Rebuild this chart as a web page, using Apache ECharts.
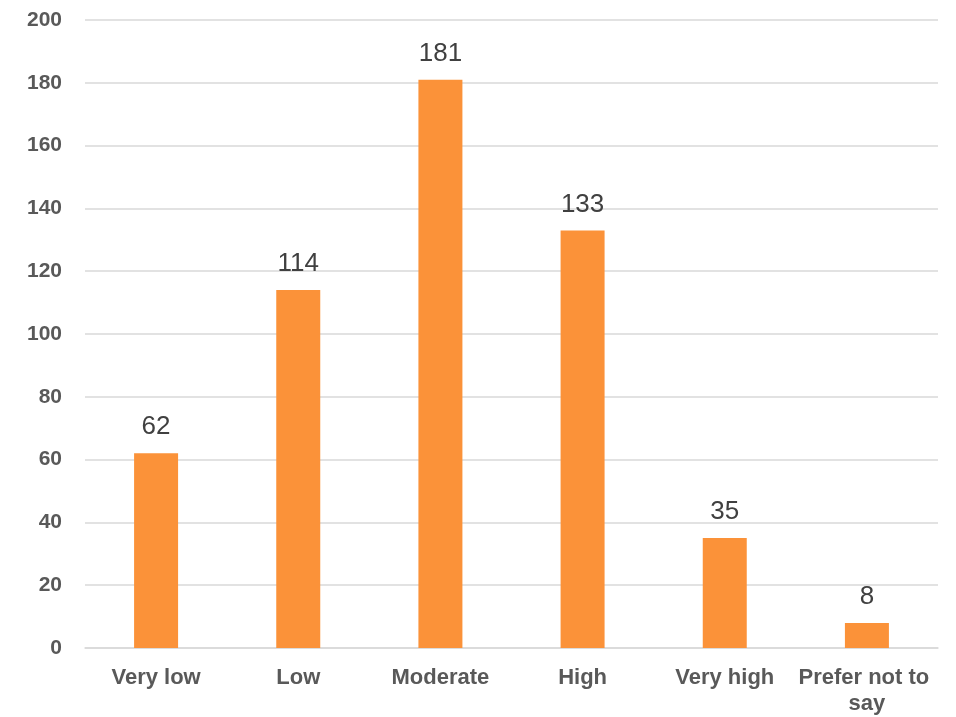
<!DOCTYPE html>
<html><head><meta charset="utf-8">
<script src="https://cdn.jsdelivr.net/npm/echarts@6/dist/echarts.min.js"></script>
<style>html,body{margin:0;padding:0;background:#fff}#c{width:956px;height:717px}</style>
</head><body><div id="c"></div>
<script>
const categories = ["Very low", "Low", "Moderate", "High", "Very high", "Prefer not to say"];
const values = [62, 114, 181, 133, 35, 8];
const yTicks = {min: 0, max: 200, interval: 20};

const chart = echarts.init(document.getElementById('c'), null, {renderer: 'canvas'});
chart.setOption({
  animation: false,
  backgroundColor: '#ffffff',
  grid: {left: 85, right: 18, top: 20, bottom: 69, containLabel: false},
  xAxis: {
    type: 'category',
    data: categories,
    axisLine: {show: true, lineStyle: {color: '#d9d9d9', width: 1.5}},
    axisTick: {show: false},
    axisLabel: {
      interval: 0, margin: 17, color: '#595959', fontWeight: 'bold', fontSize: 22,
      fontFamily: 'Liberation Sans, Arial, sans-serif', width: 142, overflow: 'break', lineHeight: 26
    }
  },
  yAxis: {
    type: 'value', min: yTicks.min, max: yTicks.max, interval: yTicks.interval,
    axisLine: {show: false}, axisTick: {show: false},
    splitLine: {lineStyle: {color: '#d9d9d9', width: 1.5}},
    axisLabel: {margin: 23, color: '#595959', fontWeight: 'bold', fontSize: 21,
      fontFamily: 'Liberation Sans, Arial, sans-serif'}
  },
  series: [{
    type: 'bar', data: values, barWidth: 44,
    itemStyle: {color: '#FB9239'},
    label: {show: true, position: 'top', distance: 13, color: '#404040', fontSize: 26,
      fontFamily: 'Liberation Sans, Arial, sans-serif'}
  }]
});
</script></body></html>
